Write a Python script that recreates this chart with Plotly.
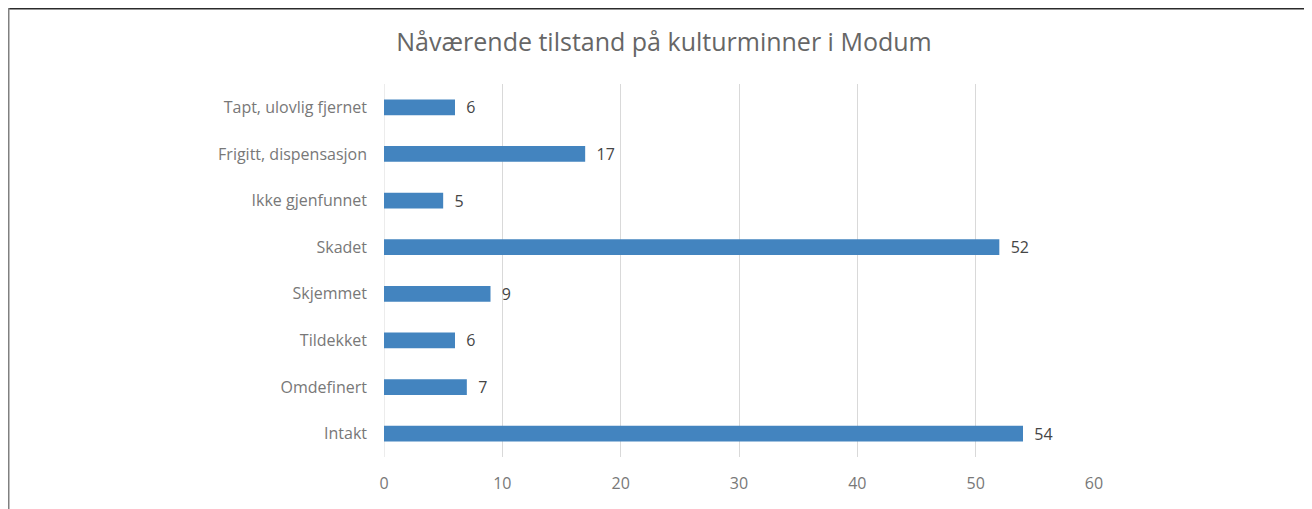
import plotly.graph_objects as go

categories = ["Intakt", "Omdefinert", "Tildekket", "Skjemmet", "Skadet",
              "Ikke gjenfunnet", "Frigitt, dispensasjon", "Tapt, ulovlig fjernet"]
values = [54, 7, 6, 9, 52, 5, 17, 6]
x_ticks = [0, 10, 20, 30, 40, 50, 60]

# page offset of the figure (default body margin)
OFF = 8
W, H = 1312 - OFF, 509 - OFF
L, R, T, B = 384 - OFF, 218, 84 - OFF, 52
pw, ph = W - L - R, H - T - B

def px_x(p):
    return (p - L) / pw

def px_y(p):
    return (H - B - p) / ph

FONT = "Open Sans, Lato, sans-serif"
TICK_COLOR = "#787878"

fig = go.Figure(go.Bar(
    y=categories, x=values, orientation="h",
    marker=dict(color="#4384bf", line=dict(width=0)),
    width=0.34,
    text=["  " + str(v) for v in values],
    textposition="outside", cliponaxis=False, constraintext="none",
    textfont=dict(family=FONT, size=16, color="#454545"),
))

fig.update_layout(
    width=W, height=H,
    margin=dict(l=L, r=R, t=T, b=B, autoexpand=False),
    paper_bgcolor="white", plot_bgcolor="white",
    showlegend=False,
    title=dict(text="Nåværende tilstand på kulturminner i Modum",
               x=(664 - OFF) / W, xanchor="center", xref="container",
               y=1 - (42 - OFF) / H, yanchor="middle", yref="container",
               font=dict(family=FONT, size=25, color="#666666")),
    xaxis=dict(range=[0, 60], tickvals=x_ticks, showgrid=True,
               gridcolor="#d9d9d9", gridwidth=1, zeroline=False,
               showline=False, ticks="",
               tickfont=dict(family=FONT, size=16, color=TICK_COLOR),
               ticklabelstandoff=15),
    yaxis=dict(categoryorder="array", categoryarray=categories,
               showgrid=False, zeroline=False, showline=False, ticks="",
               tickfont=dict(family=FONT, size=16, color=TICK_COLOR),
               ticklabelstandoff=16),
    shapes=[
        dict(type="line", xref="paper", yref="paper",
             x0=px_x(0), x1=px_x(W), y0=px_y(0.75), y1=px_y(0.75),
             line=dict(color="#2b2b2b", width=1.5)),
        dict(type="line", xref="paper", yref="paper",
             x0=px_x(0.75), x1=px_x(0.75), y0=px_y(0), y1=px_y(H),
             line=dict(color="#808080", width=1.5)),
        dict(type="line", xref="x", yref="paper",
             x0=0, x1=0, y0=0, y1=1,
             line=dict(color="#d9d9d9", width=1), layer="below"),
    ],
)

fig.write_html("out.html")
